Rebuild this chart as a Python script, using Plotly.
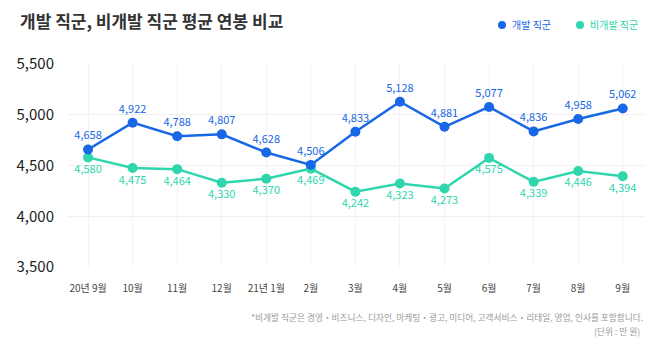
import plotly.graph_objects as go

months = ["20년 9월", "10월", "11월", "12월", "21년 1월", "2월", "3월", "4월", "5월", "6월", "7월", "8월", "9월"]
dev = [4658, 4922, 4788, 4807, 4628, 4506, 4833, 5128, 4881, 5077, 4836, 4958, 5062]
nondev = [4580, 4475, 4464, 4330, 4370, 4469, 4242, 4323, 4273, 4575, 4339, 4446, 4394]
y_ticks = [3500, 4000, 4500, 5000, 5500]

BLUE = "#1767e6"
TEAL = "#2fd6ad"
FONT = "Noto Sans CJK KR"

fig = go.Figure()
fig.add_trace(go.Scatter(
    x=list(range(len(months))), y=nondev, mode="lines+markers+text",
    line=dict(color=TEAL, width=2.5), marker=dict(color=TEAL, size=10),
    text=[f"{v:,}" for v in nondev], textposition="bottom center",
    textfont=dict(color=TEAL, size=11, family=FONT), name="비개발 직군",
    cliponaxis=False, showlegend=False))
fig.add_trace(go.Scatter(
    x=list(range(len(months))), y=dev, mode="lines+markers+text",
    line=dict(color=BLUE, width=2.5), marker=dict(color=BLUE, size=10),
    text=[f"{v:,}" for v in dev], textposition="top center",
    textfont=dict(color=BLUE, size=11, family=FONT), name="개발 직군",
    cliponaxis=False, showlegend=False))

fig.update_layout(
    width=658, height=356,
    margin=dict(l=68, r=13, t=64, b=89),
    paper_bgcolor="white", plot_bgcolor="white",
    font=dict(family=FONT),
    xaxis=dict(range=[-0.45, 12.5], tickmode="array", tickvals=list(range(len(months))),
               ticktext=months, showgrid=True, gridcolor="#f3f3f3", zeroline=False,
               ticks="outside", ticklen=12, tickcolor="rgba(0,0,0,0)",
               tickfont=dict(size=10, color="#444"), showline=False),
    yaxis=dict(range=[3500, 5500], tickvals=y_ticks, ticktext=[f"{v:,}" for v in y_ticks],
               showgrid=True, gridcolor="#f0f0f0", zeroline=False,
               ticks="outside", ticklen=10, tickcolor="rgba(0,0,0,0)",
               tickfont=dict(size=15, color="#222")),
)

fig.add_annotation(text="<b>개발 직군, 비개발 직군 평균 연봉 비교</b>", xref="paper", yref="paper",
                   x=-68/577 + 18/577, y=1 + (64-20)/203, xanchor="left", yanchor="middle",
                   showarrow=False, font=dict(size=17, color="#333", family=FONT))

# legend
for cx, label, col in [(502, "개발 직군", BLUE), (580, "비개발 직군", TEAL)]:
    fig.add_shape(type="circle", xref="paper", yref="paper",
                  x0=(cx - 4 - 68)/577, x1=(cx + 4 - 68)/577,
                  y0=1 + (64-25-4)/203, y1=1 + (64-25+4)/203,
                  fillcolor=col, line=dict(width=0))
    fig.add_annotation(text=label, xref="paper", yref="paper",
                       x=(cx + 8 - 68)/577, y=1 + (64-25)/203, xanchor="left", yanchor="middle",
                       showarrow=False, font=dict(size=10, color=col, family=FONT))

fig.add_annotation(text="*비개발 직군은 경영・비즈니스, 디자인, 마케팅・광고, 미디어, 고객서비스・리테일, 영업, 인사를 포함합니다.",
                   xref="paper", yref="paper", x=(645-68)/577, y=-(317-267)/203,
                   xanchor="right", yanchor="middle", showarrow=False,
                   font=dict(size=8.7, color="#999", family=FONT))
fig.add_annotation(text="(단위 : 만 원)",
                   xref="paper", yref="paper", x=(642-68)/577, y=-(331-267)/203,
                   xanchor="right", yanchor="middle", showarrow=False,
                   font=dict(size=8.7, color="#999", family=FONT))

fig.write_html("out.html")
